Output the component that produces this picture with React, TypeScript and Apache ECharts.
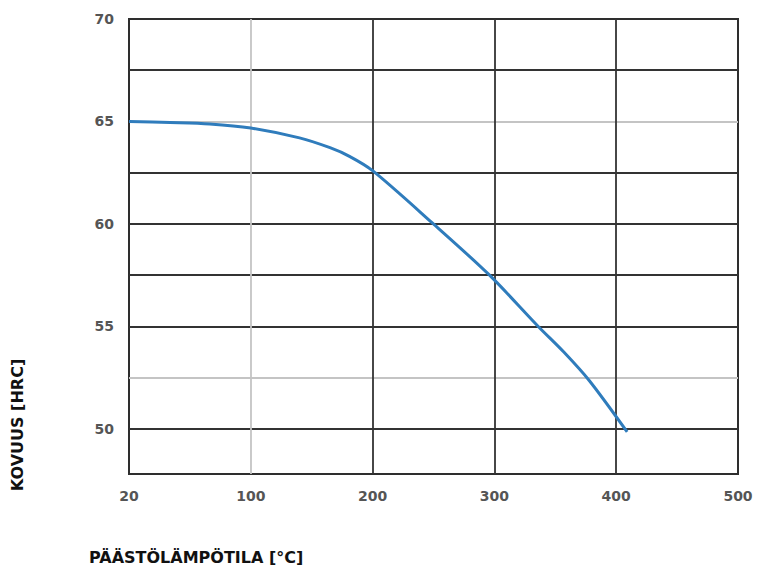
import React, { useEffect, useRef } from "react";
import * as echarts from "echarts";

// Tick labels (evenly spaced positions on the original axis)
const tempTickLabels = ["20", "100", "200", "300", "400", "500"];
const tempTickPositions = [0, 100, 200, 300, 400, 500];
const hardnessTicks = [50, 55, 60, 65, 70];

// Curve: tempering temperature [°C] vs hardness [HRC]
const temperatures = [20, 47, 73, 100, 140, 165, 181, 200, 249, 296, 336, 357, 378, 409];
const hardness = [65.0, 64.95, 64.88, 64.68, 64.2, 63.72, 63.3, 62.6, 60.05, 57.5, 55.0, 53.75, 52.35, 49.85];

// Grid lines
const majorGridY = [67.5, 62.5, 60, 57.5, 55, 50];
const minorGridY = [65, 52.5];
const majorGridX = [200, 300, 400];
const minorGridX = [100];

// The original axis places 20 and 100 one full step apart
const toAxis = (t: number) => (t < 100 ? ((t - 20) * 100) / 80 : t);

export default function App() {
  const ref = useRef<HTMLDivElement>(null);
  useEffect(() => {
    if (!ref.current) return;
    const chart = echarts.init(ref.current, null, { renderer: "svg" });
    const dark = { color: "#333", width: 1.8, type: "solid" as const };
    const light = { color: "#c4c4c4", width: 1.8, type: "solid" as const };
    const gridLines = [
      ...majorGridY.map((v) => ({ yAxis: v, lineStyle: dark })),
      ...minorGridY.map((v) => ({ yAxis: v, lineStyle: light })),
      ...majorGridX.map((v) => ({ xAxis: v, lineStyle: dark })),
      ...minorGridX.map((v) => ({ xAxis: v, lineStyle: light })),
    ];
    chart.setOption({
      animation: false,
      grid: {
        left: 129,
        right: 19,
        top: 19,
        bottom: 93,
        show: true,
        borderColor: "#2e2e2e",
        borderWidth: 2,
        backgroundColor: "#fff",
      },
      xAxis: {
        type: "value",
        min: 0,
        max: 500,
        interval: 100,
        axisLine: { show: false },
        axisTick: { show: false },
        splitLine: { show: false },
        axisLabel: {
          margin: 15,
          color: "#555",
          fontFamily: "DejaVu Sans",
          fontWeight: "bold",
          fontSize: 14,
          formatter: (v: number) => {
            const i = tempTickPositions.indexOf(v);
            return i >= 0 ? tempTickLabels[i] : "";
          },
        },
      },
      yAxis: {
        type: "value",
        min: 47.8,
        max: 70,
        axisLine: { show: false },
        axisTick: { show: false },
        splitLine: { show: false },
        axisLabel: {
          customValues: hardnessTicks,
          margin: 15,
          color: "#555",
          fontFamily: "DejaVu Sans",
          fontWeight: "bold",
          fontSize: 14,
        },
      },
      series: [
        {
          type: "line",
          data: [],
          silent: true,
          z: 1,
          markLine: {
            silent: true,
            symbol: ["none", "none"],
            label: { show: false },
            emphasis: { disabled: true },
            data: gridLines,
          },
        },
        {
          type: "line",
          z: 5,
          smooth: 0.3,
          showSymbol: false,
          data: temperatures.map((t, i) => [toAxis(t), hardness[i]]),
          lineStyle: { color: "#2f7cbc", width: 3 },
          itemStyle: { color: "#2f7cbc" },
        },
      ],
      graphic: [
        {
          type: "text",
          x: 17.5,
          y: 425,
          rotation: Math.PI / 2,
          style: {
            text: "KOVUUS [HRC]",
            fill: "#111",
            font: "bold 16px 'DejaVu Sans'",
            align: "center",
            verticalAlign: "middle",
          },
        },
        {
          type: "text",
          x: 89,
          y: 557,
          style: {
            text: "PÄÄSTÖLÄMPÖTILA [°C]",
            fill: "#111",
            font: "bold 16px 'DejaVu Sans'",
            align: "left",
            verticalAlign: "middle",
          },
        },
      ],
    });
    return () => chart.dispose();
  }, []);
  return <div ref={ref} style={{ width: 757, height: 567, position: "absolute", left: 0, top: 0 }} />;
}
